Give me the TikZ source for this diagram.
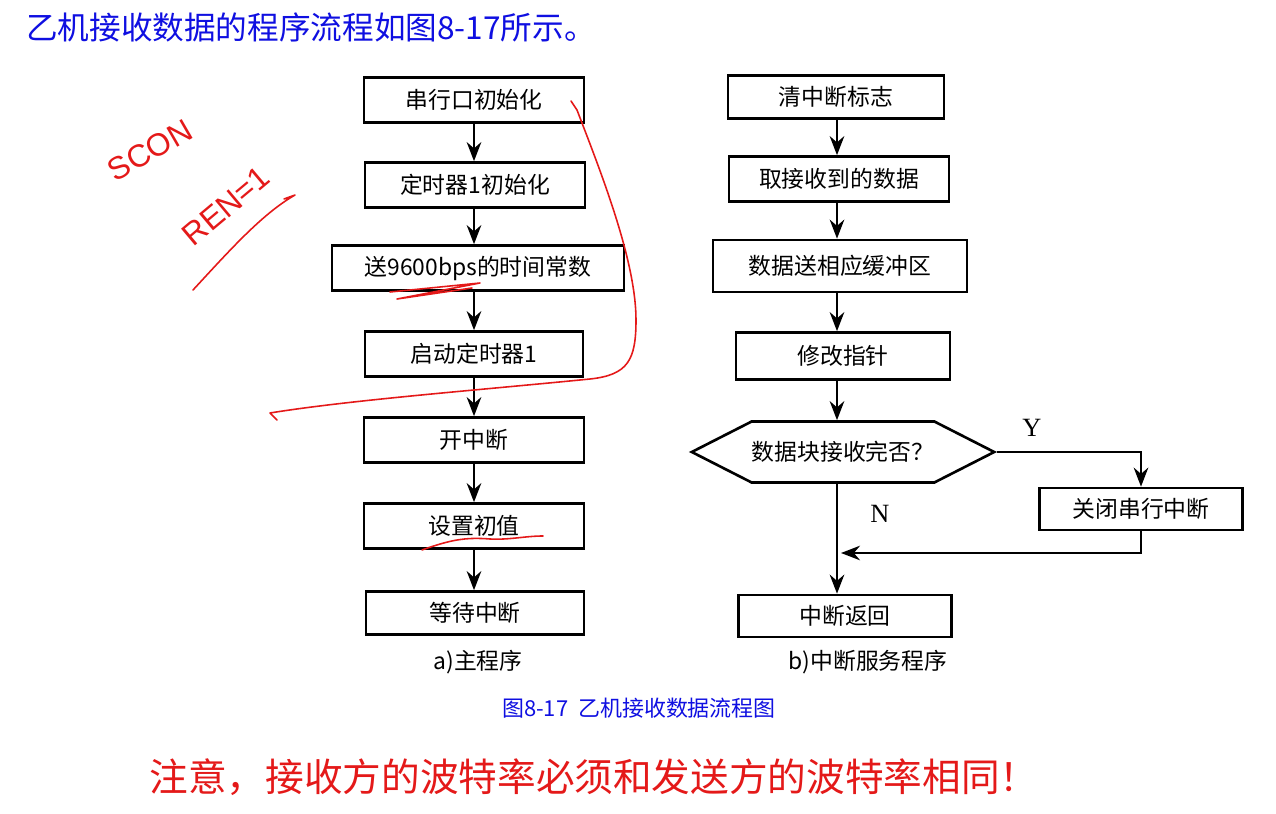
\documentclass[tikz,border=0pt]{standalone}
\usepackage{fontspec}
\setmainfont{Liberation Serif}
\newfontfamily\cjk{Noto Sans CJK SC}
\newfontfamily\hand{Liberation Sans}
\usetikzlibrary{arrows.meta,shapes.symbols}
\definecolor{heading}{RGB}{15,15,225}
\definecolor{pen}{RGB}{228,25,25}
\tikzset{
  >={Stealth[length=3.8mm,width=2.9mm]},
  box/.style={draw,line width=1.5pt,minimum height=#1,inner sep=0pt,
    font=\cjk\fontsize{13}{15}\selectfont},
  box/.default=9mm,
  hexa/.style={draw,line width=1.5pt,signal,signal to=west and east,
    signal pointer angle=54,inner sep=0pt,minimum width=6.04cm,minimum height=1.22cm,
    font=\cjk\fontsize{13}{15}\selectfont},
  flow/.style={->,line width=1.5pt},
  yn/.style={font=\fontsize{15}{17}\selectfont},
  sub/.style={font=\cjk\fontsize{13}{15}\selectfont},
  ink/.style={draw=pen,line width=0.9pt,line cap=round,line join=round},
  scrawl/.style={text=pen,inner sep=0pt,font=\hand\fontsize{18}{20}\selectfont},
}
\begin{document}
\begin{tikzpicture}[x=0.02cm,y=-0.02cm]
  \useasboundingbox (0,0) rectangle (1276,814);
  % headings
  \node[anchor=west,text=heading,font=\cjk\fontsize{18}{20}\selectfont] (ttl) at (20,27) {乙机接收数据的程序流程如图8-17所示。};
  \node[text=heading,font=\cjk\fontsize{12.5}{15}\selectfont] (cap) at (639,708) {图8-17\ \ 乙机接收数据流程图};
  \node[text=pen,font=\cjk\fontsize{22}{25}\selectfont] (warn) at (594,777) {注意，接收方的波特率必须和发送方的波特率相同！};
  % a) main program
  \node[box,minimum width=4.4cm] (m1) at (474,100) {串行口初始化};
  \node[box,minimum width=4.4cm] (m2) at (475,185) {定时器1初始化};
  \node[box,minimum width=5.84cm] (m3) at (478,268) {送9600bps的时间常数};
  \node[box,minimum width=4.36cm] (m4) at (474,354) {启动定时器1};
  \node[box,minimum width=4.4cm] (m5) at (474,440) {开中断};
  \node[box,minimum width=4.4cm] (m6) at (474,526) {设置初值};
  \node[box=8.6mm,minimum width=4.36cm] (m7) at (475,613) {等待中断};
  \foreach \a/\b in {m1/m2,m2/m3,m3/m4,m4/m5,m5/m6,m6/m7}
    \draw[flow] (\a.south -| m1) -- (\b.north -| m1);
  \node[sub] (la) at (478,662) {a)主程序};
  % b) interrupt service routine
  \coordinate (spine) at (837,0);
  \node[box=8.6mm,minimum width=4.32cm] (s1) at (836,97) {清中断标志};
  \node[box,minimum width=4.4cm] (s2) at (839,179) {取接收到的数据};
  \node[box=10.4mm,minimum width=5.08cm] (s3) at (840,266) {数据送相应缓冲区};
  \node[box=9.4mm,minimum width=4.28cm] (s4) at (843,356) {修改指针};
  \node[hexa] (ask) at (843,452) {数据块接收完否？};
  \node[box=8.4mm,minimum width=4.06cm] (off) at (1141,509) {关闭串行中断};
  \node[box=8.4mm,minimum width=4.26cm] (ret) at (845,616) {中断返回};
  \foreach \a/\b in {s1/s2,s2/s3,s3/s4,s4/ask,ask/ret}
    \draw[flow] (\a.south -| spine) -- (\b.north -| spine);
  \coordinate (merge) at (841,553);
  \draw[flow] (ask.east) -| (off.north);
  \draw[flow] (off.south) |- (merge);
  \node[yn] (yes) at (1032,428) {Y};
  \node[yn] (no) at (880,514) {N};
  \node[sub] (lb) at (868,662) {b)中断服务程序};
  % handwritten marks
  \node[scrawl,rotate=30] (scon) at (150,150) {SCON};
  \node[scrawl,rotate=40] (ren) at (226,206) {REN=1};
  \draw[ink] (193,290) .. controls (230,250) and (262,214) .. (295,195) -- (284,199);
  \draw[ink] (571,101) -- (577,110) .. controls (600,170) and (636,260) .. (636,320)
    .. controls (636,360) and (628,375) .. (590,379)
    .. controls (480,390) and (350,400) .. (270,413) -- (277,420);
  \draw[ink] (390,292) -- (480,283) -- (397,299) -- (472,288);
  \draw[ink] (422,550) .. controls (450,540) and (465,537) .. (490,539) .. controls (510,540) and (525,536) .. (543,536);
\end{tikzpicture}
\end{document}
